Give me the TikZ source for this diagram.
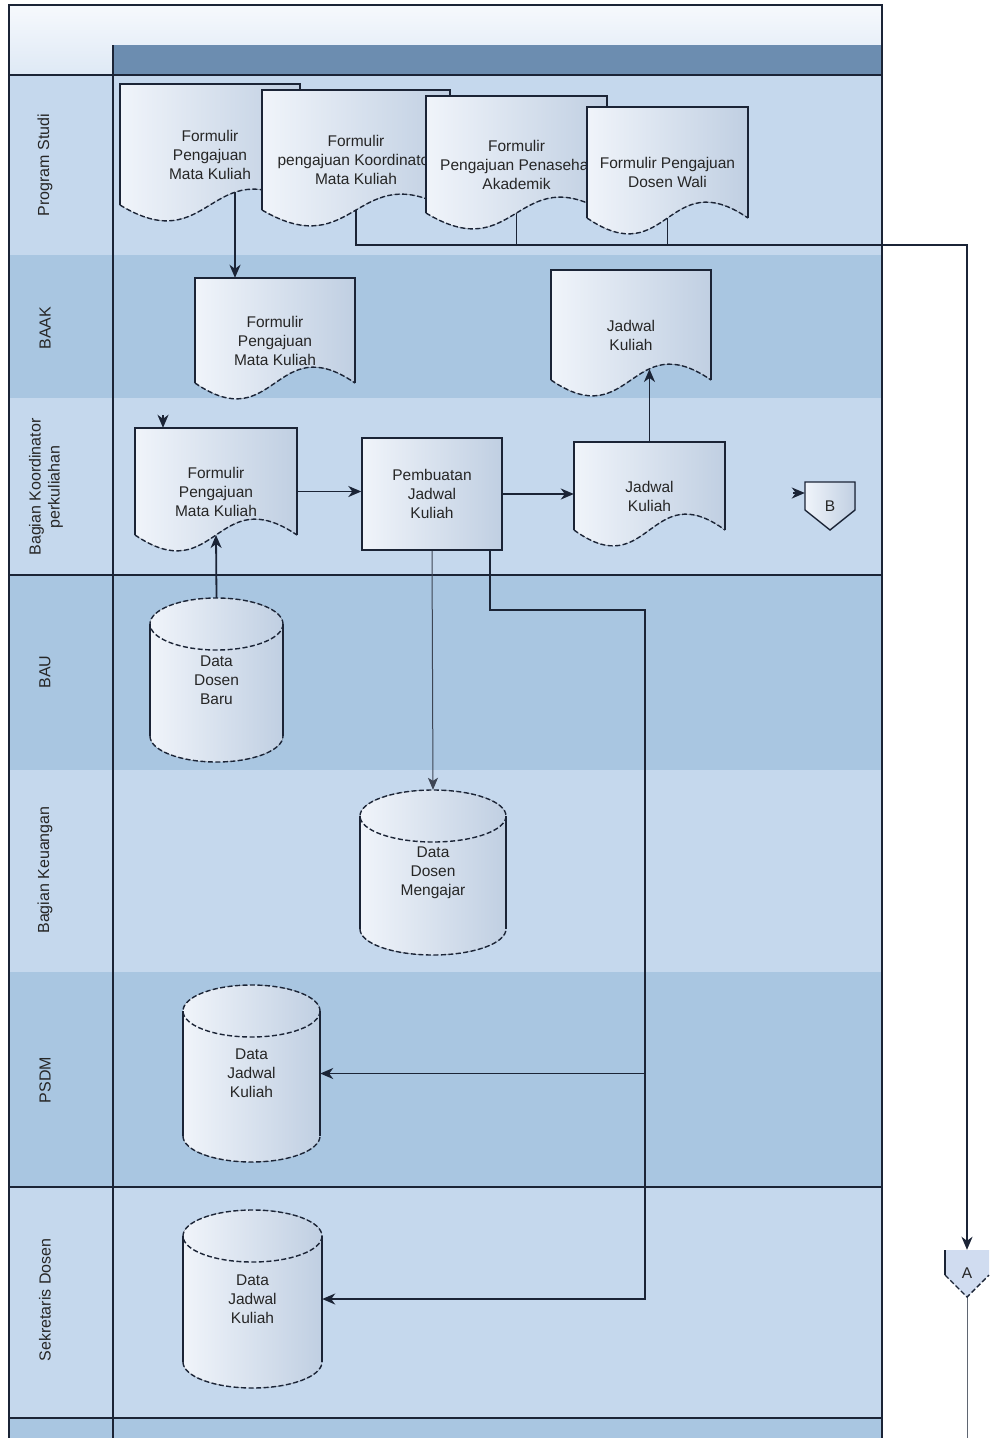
\documentclass[tikz,border=0pt]{standalone}
\usepackage{fontspec}
\setmainfont{Liberation Sans}
\usetikzlibrary{arrows.meta,positioning,calc}
\definecolor{laneLight}{RGB}{197,216,237}
\definecolor{laneDark}{RGB}{169,198,225}
\definecolor{headTop}{RGB}{246,249,253}
\definecolor{headLow}{RGB}{222,233,245}
\definecolor{headBar}{RGB}{108,141,176}
\definecolor{lineDark}{RGB}{27,36,54}
\definecolor{shapeLeft}{RGB}{240,244,250}
\definecolor{shapeRight}{RGB}{192,207,226}
\definecolor{connFill}{RGB}{208,220,240}

\pgfdeclarelayer{lanes}
\pgfdeclarelayer{links}
\pgfsetlayers{lanes,links,main}

\tikzset{
  flow/.style={draw=lineDark, line width=1.8pt, -{Stealth[length=13pt, width=11pt, inset=4pt]}},
  link/.style={draw=lineDark, line width=1.8pt},
  thinflow/.style={draw=lineDark!85, line width=1pt, -{Stealth[length=12pt, width=10pt, inset=3pt]}},
  thinlink/.style={draw=lineDark!70, line width=1pt},
  shapefill/.style={left color=shapeLeft, right color=shapeRight},
  solidedge/.style={draw=lineDark, line width=1.4pt},
  waveedge/.style={draw=lineDark, line width=1.4pt, dash pattern=on 5pt off 2.5pt},
  boxtext/.style={align=center, font=\fontsize{15.5}{19}\selectfont, text=black!85, inner sep=0pt},
  procbox/.style={boxtext, draw=lineDark, line width=1.4pt, shapefill, minimum width=140, minimum height=112},
  lanelabel/.style={rotate=90, align=center, font=\fontsize{16}{19}\selectfont, text=black!85},
}

% document shape: name, left, top, width, height, text
\newcommand{\docshape}[6]{%
  \fill[shapefill] (#2,#3) -- (#2+#4,#3) -- (#2+#4,#3+#5)
    .. controls (#2+#4/2,#3+#5-55) and (#2+#4/2,#3+#5+55) .. (#2,#3+#5) -- cycle;
  \draw[solidedge] (#2,#3+#5) -- (#2,#3) -- (#2+#4,#3) -- (#2+#4,#3+#5);
  \draw[waveedge] (#2,#3+#5) .. controls (#2+#4/2,#3+#5+55) and (#2+#4/2,#3+#5-55) .. (#2+#4,#3+#5);
  \node[boxtext, minimum width=#4, minimum height=#5+20] (#1) at (#2+#4/2,#3+#5/2+10) {#6};
  \coordinate (#1-mid) at (#2+#4/2,#3+#5);
}

% database shape: name, left, top, width, height, text
\newcommand{\dbshape}[6]{%
  \fill[shapefill] (#2,#3+26) -- (#2,#3+#5-26)
    arc[start angle=180, end angle=0, x radius=#4/2, y radius=26] -- (#2+#4,#3+26)
    arc[start angle=0, end angle=-180, x radius=#4/2, y radius=26] -- cycle;
  \draw[solidedge] (#2,#3+26) -- (#2,#3+#5-26) (#2+#4,#3+26) -- (#2+#4,#3+#5-26);
  \draw[waveedge] (#2+#4/2,#3+26) ellipse[x radius=#4/2, y radius=26];
  \draw[waveedge] (#2,#3+#5-26) arc[start angle=180, end angle=0, x radius=#4/2, y radius=26];
  \node[boxtext, minimum width=#4, minimum height=#5] (#1) at (#2+#4/2,#3+#5/2) {#6};
}

\begin{document}
\begin{tikzpicture}[x=1pt, y=-1pt]
  \useasboundingbox (0,0) rectangle (990,1438);

  % Swimlanes
  \begin{pgfonlayer}{lanes}
    \fill[white] (0,0) rectangle (990,1438);
    \fill[top color=headTop, bottom color=headLow] (9,5) rectangle (882,75);
    \fill[headBar] (113,45) rectangle (882,75);
    \foreach \ytop/\ybot/\col in {75/255/laneLight, 255/398/laneDark, 398/575/laneLight,
        575/770/laneDark, 770/972/laneLight, 972/1187/laneDark, 1187/1418/laneLight, 1418/1438/laneDark}
      \fill[\col] (9,\ytop) rectangle (882,\ybot);
    \draw[lineDark, line width=1.2pt] (9,1438) -- (9,5) -- (882,5) -- (882,1438);
    \draw[lineDark, line width=1.2pt] (113,45) -- (113,1438);
    \foreach \y in {75,575,1187}
      \draw[lineDark, line width=1.5pt] (9,\y) -- (882,\y);
    \draw[lineDark, line width=2.5pt] (9,1418) -- (882,1418);
  \end{pgfonlayer}

  % Lane labels
  \node[lanelabel] (lProdi) at (45,165) {Program Studi};
  \node[lanelabel] (lBaak) at (45,328) {BAAK};
  \node[lanelabel] (lKoord) at (46,487) {Bagian Koordinator\\perkuliahan};
  \node[lanelabel] (lBau) at (45,672) {BAU};
  \node[lanelabel] (lKeu) at (45,870) {Bagian Keuangan};
  \node[lanelabel] (lPsdm) at (45,1080) {PSDM};
  \node[lanelabel] (lSek) at (45,1300) {Sekretaris Dosen};

  % Program Studi
  \docshape{pmk}{120}{84}{180}{121}{Formulir\\Pengajuan\\Mata Kuliah}
  \docshape{pkoord}{262}{90}{188}{120}{Formulir\\pengajuan Koordinator\\Mata Kuliah}
  \docshape{ppa}{426}{96}{181}{117}{Formulir\\Pengajuan Penasehat\\Akademik}
  \docshape{pdw}{587}{107}{161}{111}{Formulir Pengajuan\\Dosen Wali}

  % BAAK
  \docshape{bmk}{195}{278}{160}{105}{Formulir\\Pengajuan\\Mata Kuliah}
  \docshape{bjk}{551}{270}{160}{110}{Jadwal\\Kuliah}

  % Bagian Koordinator perkuliahan
  \docshape{kmk}{135}{428}{162}{107}{Formulir\\Pengajuan\\Mata Kuliah}
  \node[procbox] (buat) at (432,494) {Pembuatan\\Jadwal\\Kuliah};
  \docshape{kjk}{574}{442}{151}{88}{Jadwal\\Kuliah}
  \fill[shapefill] (805,482) -- (855,482) -- (855,510) -- (830,530) -- (805,510) -- cycle;
  \draw[solidedge] (805,510) -- (805,482) -- (855,482) -- (855,510) -- (830,530) -- cycle;
  \node[boxtext, minimum width=50, minimum height=48] (offB) at (830,506) {B};

  % Databases
  \dbshape{baru}{150}{598}{133}{164}{Data\\Dosen\\Baru}
  \dbshape{ngajar}{360}{790}{146}{165}{Data\\Dosen\\Mengajar}
  \dbshape{psdm}{183}{985}{137}{177}{Data\\Jadwal\\Kuliah}
  \dbshape{sekdos}{183}{1210}{139}{178}{Data\\Jadwal\\Kuliah}

  % Off-page connector A
  \fill[connFill] (945,1250) -- (989,1250) -- (989,1275) -- (967,1297) -- (945,1275) -- cycle;
  \draw[solidedge] (945,1275) -- (945,1250);
  \draw[waveedge] (945,1275) -- (967,1297) -- (989,1275);
  \node[boxtext, minimum width=44, minimum height=47] (offA) at (967,1273.5) {A};

  % Connectors
  \coordinate (bendA) at (967,245);
  \coordinate (kIn) at (163,415);
  \coordinate (bIn) at (793,493);
  \coordinate (bjkIn) at (649.5,369);
  \coordinate (turnR) at (645,610);
  \coordinate (aOut) at (967,1438);
  \begin{pgfonlayer}{links}
    \draw[flow] ([xshift=25pt]pmk.center) -- ([xshift=25pt]pmk.center |- bmk.north);
    \draw[flow] (pkoord.center) |- (bendA) -- (offA.north);
    \draw[link] (ppa.center) -- (ppa.center |- bendA);
    \draw[link] (pdw.center) -- (pdw.center |- bendA);
    \draw[thinlink] (offA.south) -- (aOut);
    \draw[flow] (kIn) -- (kIn |- kmk.north);
    \draw[flow] (kmk.east) -- (kmk.east -| buat.west);
    \draw[flow] (buat.east) -- (buat.east -| kjk.west);
    \draw[flow] (kjk.north) -- (bjkIn);
    \draw[flow] (bIn) -- (bIn -| offB.west);
    \draw[flow] (baru.north) -- (kmk-mid);
    \draw[thinflow] (buat.south) -- (ngajar.north);
    \draw[flow] ([xshift=58pt]buat.south) |- (turnR) |- (sekdos.east);
    \draw[flow] (turnR |- psdm.east) -- (psdm.east);
  \end{pgfonlayer}
\end{tikzpicture}
\end{document}
